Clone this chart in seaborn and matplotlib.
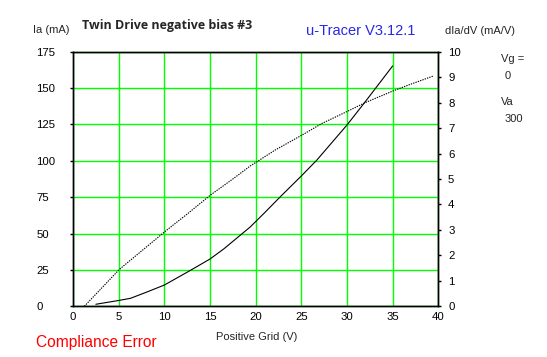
import numpy as np
import pandas as pd
import matplotlib
matplotlib.use("Agg")
import matplotlib.pyplot as plt
import seaborn as sns

# Ia curve (left axis, mA)
ia_vg = [2.5, 5.0, 6.3, 8.0, 10.0, 12.8, 15.0, 16.5, 19.4, 20.9, 22.7, 25.1, 26.7, 28.0, 30.0, 32.0, 35.0]
ia_ma = [1.4, 4.0, 5.5, 9.6, 14.6, 24.5, 32.5, 39.4, 54.5, 63.8, 75.3, 90.2, 100.5, 110.0, 124.6, 140.6, 165.2]

# gm curve (right axis, mA/V)
gm_vg = [1.24, 5.08, 10.05, 12.8, 15.05, 17.5, 19.4, 22.15, 25.1, 27.3, 30.0, 32.0, 35.05, 36.95, 39.5]
gm_val = [0.0, 1.45, 2.93, 3.71, 4.37, 5.0, 5.51, 6.14, 6.73, 7.19, 7.65, 8.0, 8.46, 8.72, 9.05]

x_ticks = [0, 5, 10, 15, 20, 25, 30, 35, 40]
ia_ticks = [0, 25, 50, 75, 100, 125, 150, 175]
gm_ticks = list(range(0, 11))

sns.set_style("white")
plt.rcParams['font.family'] = ['Liberation Sans', 'DejaVu Sans']

W, H = 547, 357
fig = plt.figure(figsize=(W / 100, H / 100), dpi=100)
ax = fig.add_axes([73 / W, 1 - 306.3 / H, (438.3 - 73) / W, (306.3 - 51.7) / H])
ax2 = ax.twinx()

df_ia = pd.DataFrame({'vg': ia_vg, 'ia': ia_ma})
df_gm = pd.DataFrame({'vg': gm_vg, 'gm': gm_val})

sns.lineplot(data=df_ia, x='vg', y='ia', ax=ax, color='black', linewidth=0.8)
sns.lineplot(data=df_gm, x='vg', y='gm', ax=ax2, color='black', linewidth=0.8,
             linestyle=(0, (1.2, 1.0)))

ax.set_xlim(0, 40)
ax.set_ylim(0, 175)
ax2.set_ylim(0, 10)
ax.set_xticks(x_ticks)
ax.set_yticks(ia_ticks)
ax2.set_yticks(gm_ticks)
ax.set_xlabel('')
ax.set_ylabel('')
ax2.set_ylabel('')

ax.grid(True, color='#00FF00', linewidth=1.0)
ax2.grid(False)
for a in (ax, ax2):
    for s in a.spines.values():
        s.set_color('black')
        s.set_linewidth(1.0)
        s.set_visible(True)

ax.tick_params(axis='x', length=0, pad=4, labelsize=8.2, colors='black')
ax.tick_params(axis='y', direction='out', length=2, width=1, pad=24.5, labelsize=8.2, colors='black')
for lbl in ax.get_yticklabels():
    lbl.set_horizontalalignment('left')
ax2.tick_params(axis='y', direction='out', length=2, width=1, pad=5, labelsize=8.2, colors='black')


def txt(x, y, s, **kw):
    fig.text(x / W, 1 - y / H, s, va='center', **kw)


txt(33, 30, 'Ia (mA)', fontsize=8)
txt(82, 25.5, 'Twin Drive negative bias #3', fontsize=9, fontweight='bold',
    family=['Open Sans', 'DejaVu Sans'])
txt(306, 31, 'u-Tracer V3.12.1', fontsize=10.5, color='#2828E8')
txt(445, 31, 'dIa/dV (mA/V)', fontsize=8)
txt(501, 59, 'Vg =', fontsize=8)
txt(505, 76, '0', fontsize=8)
txt(501, 102, 'Va', fontsize=8)
txt(505, 119, '300', fontsize=8)
txt(256.5, 337.5, 'Positive Grid (V)', fontsize=8, ha='center')
txt(36, 342, 'Compliance Error', fontsize=11.2, color='#FF0000')

fig.savefig('out.png', dpi=100, facecolor='white')
